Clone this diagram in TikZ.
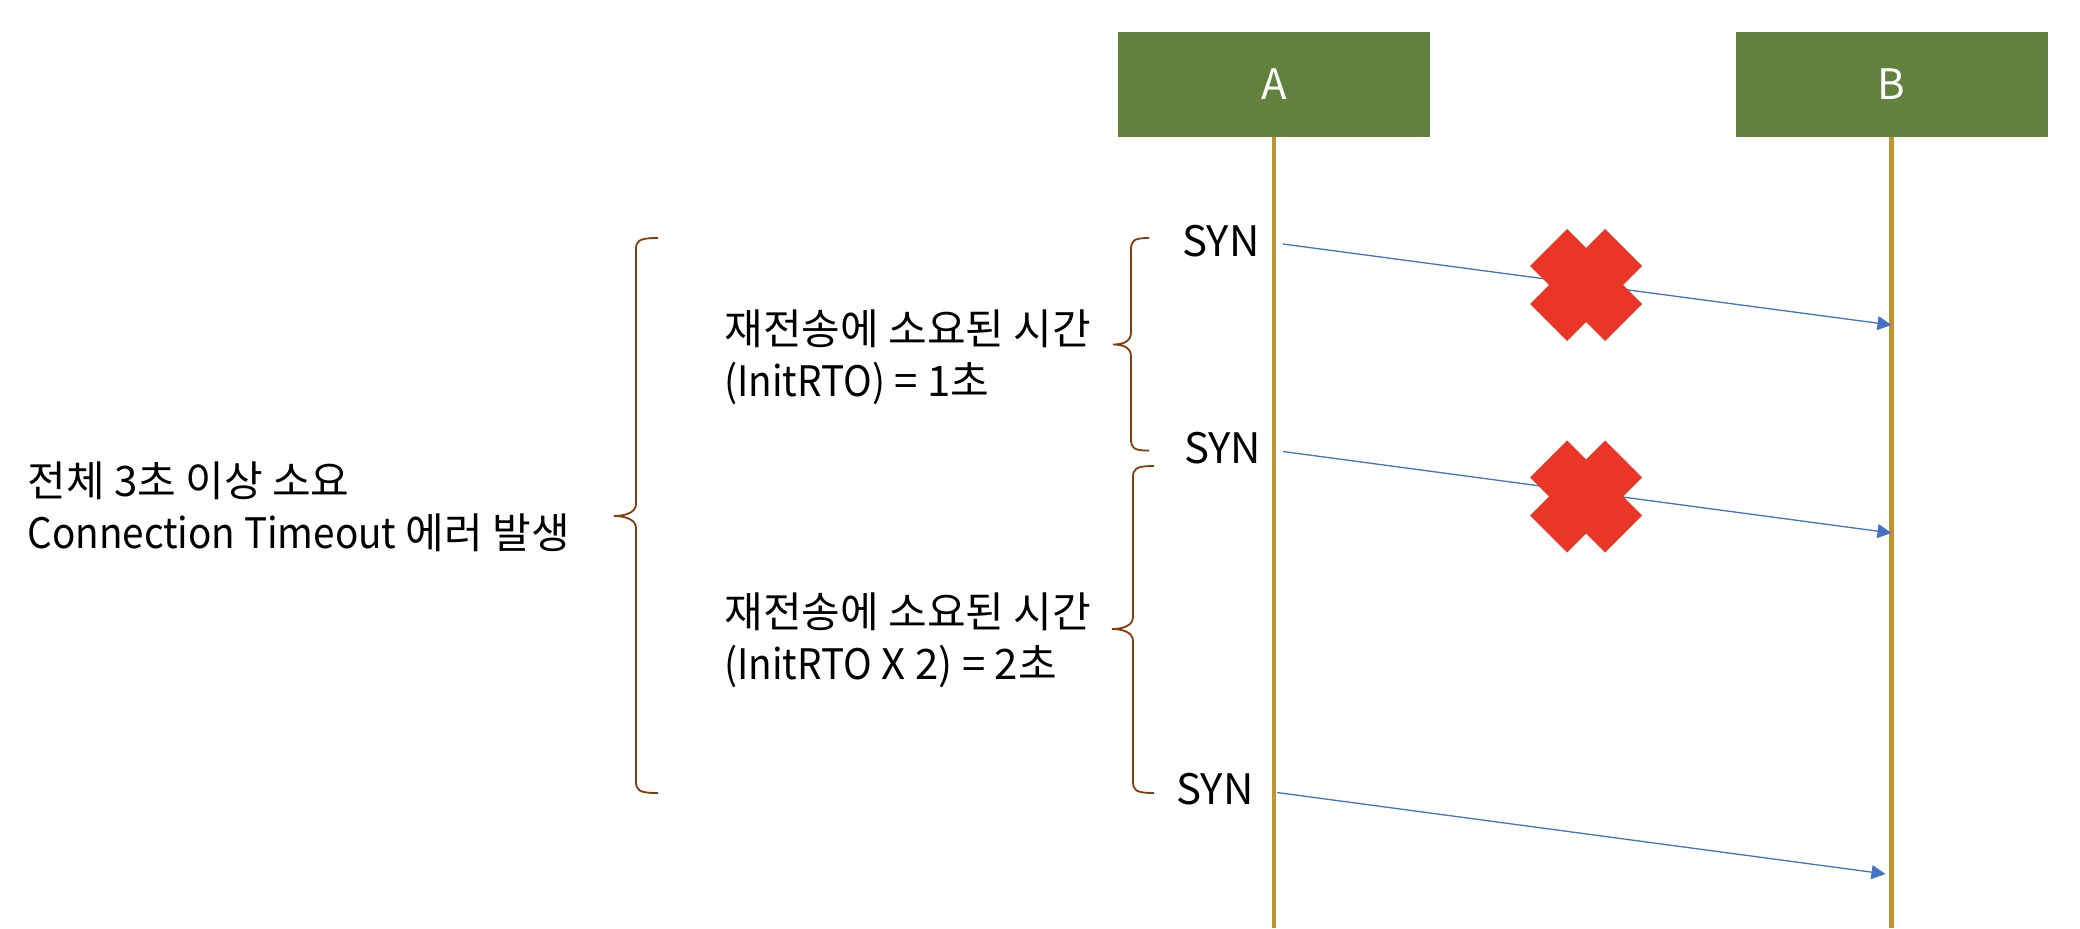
\documentclass[tikz,border=0pt]{standalone}
\usepackage{fontspec}
\setmainfont{Noto Sans CJK KR}
\newfontfamily\latn{Noto Sans CJK KR}[FakeStretch=0.92]
\usetikzlibrary{arrows.meta}
\definecolor{boxgreen}{RGB}{96,130,62}
\definecolor{lifegold}{RGB}{191,146,52}
\definecolor{msgblue}{RGB}{68,114,196}
\definecolor{bracebrown}{RGB}{132,60,12}
\definecolor{xred}{RGB}{234,54,38}
\begin{document}
\begin{tikzpicture}[x=0.5pt,y=-0.5pt,
  every node/.style={font=\fontsize{21}{26}\selectfont, inner sep=0pt},
  actor/.style={fill=boxgreen, text=white, minimum width=156pt, minimum height=52.5pt},
  lifeline/.style={draw=lifegold, line width=2.3pt},
  msg/.style={draw=msgblue, line width=0.65pt, -{Triangle[length=7pt,width=7pt]}},
  brc/.style={draw=bracebrown, line width=0.9pt},
  txt/.style={align=left, anchor=west},
  synlbl/.style={anchor=base east},
  xmark/.style={fill=xred}
]
\useasboundingbox (0,0) rectangle (2080,928);

% actors and lifelines
\node[actor] (A) at (1274,84.5) {A};
\node[actor] (B) at (1891.5,84.5) {B};
\coordinate (Aend) at (1274,928);
\coordinate (Bend) at (1891.5,928);
\draw[lifeline] (A.south) -- (Aend);
\draw[lifeline] (B.south) -- (Bend);

% messages
\coordinate (s1) at (1283,244);
\coordinate (e1) at (1891.5,325);
\coordinate (s2) at (1283,451.5);
\coordinate (e2) at (1891.5,533);
\coordinate (s3) at (1277,792.5);
\coordinate (e3) at (1885.5,874);
\draw[msg] (s1) -- (e1);
\draw[msg] (s2) -- (e2);
\draw[msg] (s3) -- (e3);

% SYN labels
\node[synlbl] (syn1) at (1260,256.5) {SYN};
\node[synlbl] (syn2) at (1261.5,463) {SYN};
\node[synlbl] (syn3) at (1254,804) {SYN};

% red crosses
\fill[xmark, shift={(1586,285)}] (-19,-56) -- (0,-37) -- (19,-56) -- (56,-19) -- (37,0) -- (56,19)
  -- (19,56) -- (0,37) -- (-19,56) -- (-56,19) -- (-37,0) -- (-56,-19) -- cycle;
\fill[xmark, shift={(1586,496.5)}] (-19,-56) -- (0,-37) -- (19,-56) -- (56,-19) -- (37,0) -- (56,19)
  -- (19,56) -- (0,37) -- (-19,56) -- (-56,19) -- (-37,0) -- (-56,-19) -- cycle;

% braces
\draw[brc] (1149,238) .. controls (1133,238) and (1131,241) .. (1131,250) -- (1131,332.5)
  .. controls (1131,341.5) and (1123,344.5) .. (1113,344.5)
  .. controls (1123,344.5) and (1131,347.5) .. (1131,356.5) -- (1131,438.6)
  .. controls (1131,447.6) and (1133,450.6) .. (1149,450.6);
\draw[brc] (1154,466) .. controls (1135,466) and (1133,469) .. (1133,478) -- (1133,617)
  .. controls (1133,626) and (1122,629) .. (1112,629)
  .. controls (1122,629) and (1133,632) .. (1133,641) -- (1133,781)
  .. controls (1133,790) and (1135,793) .. (1154,793);
\draw[brc] (658,238) .. controls (638,238) and (636,241) .. (636,250) -- (636,504)
  .. controls (636,513) and (624,516) .. (614,516)
  .. controls (624,516) and (636,519) .. (636,528) -- (636,781)
  .. controls (636,790) and (638,793) .. (658,793);

% texts
\node[txt] (t1) at (724,357) {재전송에 소요된 시간\\{\latn (InitRTO)} = 1초};
\node[txt] (t2) at (724,640) {재전송에 소요된 시간\\{\latn (InitRTO} X 2) = 2초};
\node[txt] (t0) at (27,507) {전체 3초 이상 소요\\{\latn Connection Timeout} 에러 발생};
\end{tikzpicture}
\end{document}
